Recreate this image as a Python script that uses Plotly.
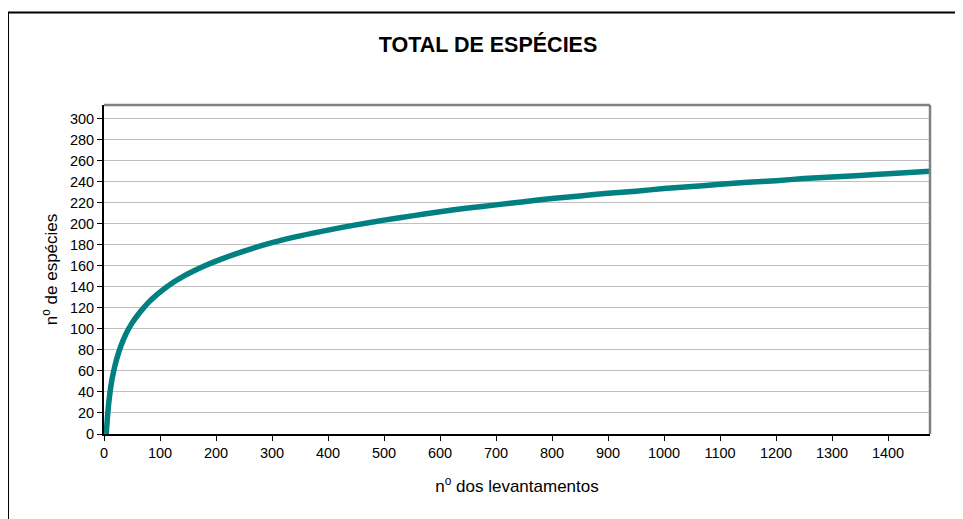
import plotly.graph_objects as go

# Data (species accumulation curve)
levantamentos = [4, 5, 6, 8, 10, 12, 15, 20, 25, 30, 40, 50, 60, 70, 80, 90, 100, 120, 140, 160,
                 180, 200, 250, 300, 350, 400, 450, 500, 550, 600, 650, 700, 750, 800, 850, 900,
                 950, 1000, 1050, 1100, 1150, 1200, 1250, 1300, 1350, 1400, 1475]
especies = [0, 7.5, 15, 27, 36.5, 44.5, 54, 66, 75.5, 83.5, 96, 105.5, 113, 119.5, 125.5, 130.5,
            135, 143, 149.5, 155, 160, 164.5, 174, 182, 188.5, 194, 199, 203.5, 207.5, 211.5,
            215, 218, 221, 224, 226.5, 229, 231, 233.5, 235.5, 237.5, 239.5, 241, 243, 244.5,
            246, 247.5, 250]

x_ticks = list(range(0, 1401, 100))
y_ticks = list(range(0, 301, 20))

OFF = 8  # page body margin
W, H = 963 - OFF, 519 - OFF
L, T = 104 - OFF, 105 - OFF
R = W - (930 - OFF)
B = H - (434 - OFF)
pw, ph = W - L - R, H - T - B

def px(xp):
    return (xp - OFF - L) / pw

def py(yp):
    return (H - B - (yp - OFF)) / ph

FONT = "Liberation Sans, Arial, sans-serif"

fig = go.Figure()
fig.add_trace(go.Scatter(
    x=levantamentos, y=especies, mode="lines",
    line=dict(color="#008080", width=5.5, shape="spline", smoothing=0.8),
    hoverinfo="x+y", showlegend=False,
))

fig.update_layout(
    width=W, height=H,
    margin=dict(l=L, r=R, t=T, b=B),
    paper_bgcolor="white", plot_bgcolor="white",
    font=dict(family=FONT, color="black", size=14.5),
    title=dict(text="<b>TOTAL DE ESPÉCIES</b>", x=(488 - OFF) / W, xref="container", xanchor="center",
               y=1 - (44 - OFF) / H, yref="container", yanchor="middle",
               font=dict(family=FONT, size=21.5, color="black")),
    xaxis=dict(range=[0, 1475], tickvals=x_ticks, ticktext=[str(v) for v in x_ticks],
               showgrid=False, zeroline=False, showline=True, linecolor="black", linewidth=2,
               ticks="outside", ticklen=5, tickcolor="black", tickwidth=1,
               tickfont=dict(size=14.5),
               title=dict(text="n<sup>o</sup> dos levantamentos", font=dict(size=17), standoff=20)),
    yaxis=dict(range=[0, 313], tickvals=y_ticks, ticktext=[str(v) for v in y_ticks],
               showgrid=True, gridcolor="#c0c0c0", gridwidth=1,
               zeroline=False, showline=True, linecolor="black", linewidth=2,
               ticks="outside", ticklen=5, tickcolor="black", tickwidth=1,
               tickfont=dict(size=14.5),
               title=dict(text="n<sup>o</sup> de espécies", font=dict(size=17), standoff=8)),
    shapes=[
        # plot area top and right borders (gray)
        dict(type="line", xref="paper", yref="paper", x0=0, x1=1, y0=1, y1=1,
             line=dict(color="#808080", width=2.5)),
        dict(type="line", xref="paper", yref="paper", x0=1, x1=1, y0=0, y1=1,
             line=dict(color="#808080", width=2.5)),
        # outer chart border (top and left visible)
        dict(type="line", xref="paper", yref="paper", x0=px(8), x1=px(963 + 5), y0=py(12.5), y1=py(12.5),
             line=dict(color="black", width=2)),
        dict(type="line", xref="paper", yref="paper", x0=px(8), x1=px(8), y0=py(12.5), y1=py(519 + 5),
             line=dict(color="black", width=2)),
    ],
)

fig.write_html("out.html")
